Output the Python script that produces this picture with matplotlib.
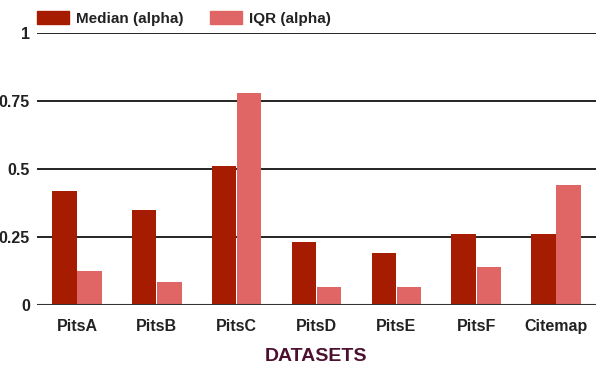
import matplotlib
matplotlib.use("Agg")
import matplotlib.pyplot as plt
import numpy as np
from matplotlib.patches import Patch

categories = ["PitsA", "PitsB", "PitsC", "PitsD", "PitsE", "PitsF", "Citemap"]
median = [0.42, 0.35, 0.51, 0.23, 0.19, 0.26, 0.26]
iqr = [0.125, 0.085, 0.78, 0.068, 0.068, 0.14, 0.44]
yticks = [0, 0.25, 0.5, 0.75, 1]
ytick_labels = ["0", "0.25", "0.5", "0.75", "1"]

c_med = "#a61c00"
c_iqr = "#e06666"

plt.rcParams['font.family'] = ['Liberation Sans', 'DejaVu Sans']
fig = plt.figure(figsize=(6, 3.71), dpi=100)
ax = fig.add_axes([37/600, 1-305/371, 559/600, 272/371])

x = np.arange(len(categories))
w = 0.305
ax.bar(x - w/2 - 0.005, median, width=w, color=c_med, zorder=3)
ax.bar(x + w/2 + 0.005, iqr, width=w, color=c_iqr, zorder=3)

ax.set_xlim(-0.5, len(categories) - 0.5)
ax.set_ylim(0, 1)
ax.set_yticks(yticks)
ax.set_yticklabels(ytick_labels)
for v in yticks[1:]:
    ax.axhline(v, color="black", lw=1.2, zorder=1)
ax.axhline(0, color="#333333", lw=1.5, zorder=4)
for s in ax.spines.values():
    s.set_visible(False)
ax.tick_params(axis="both", length=0, labelsize=11.5, labelcolor="#222222")
ax.tick_params(axis="y", pad=5)
ax.tick_params(axis="x", pad=10)
ax.set_xticks(x)
ax.set_xticklabels(categories)
for lab in ax.get_xticklabels() + ax.get_yticklabels():
    lab.set_fontweight("bold")
ax.set_xlabel("DATASETS", fontsize=14, fontweight="bold", color="#4c1130", labelpad=10)

handles = [Patch(color=c_med, label="Median (alpha)"), Patch(color=c_iqr, label="IQR (alpha)")]
leg = fig.legend(handles=handles, loc="upper left", bbox_to_anchor=(37/600, 1 - 11/371), ncol=2,
                 frameon=False, fontsize=11, handlelength=2.1, handleheight=0.95,
                 columnspacing=1.75, handletextpad=0.45, borderpad=0, borderaxespad=0)
for t in leg.get_texts():
    t.set_fontweight("bold")
    t.set_color("#222222")

fig.savefig("out.png", dpi=100)
